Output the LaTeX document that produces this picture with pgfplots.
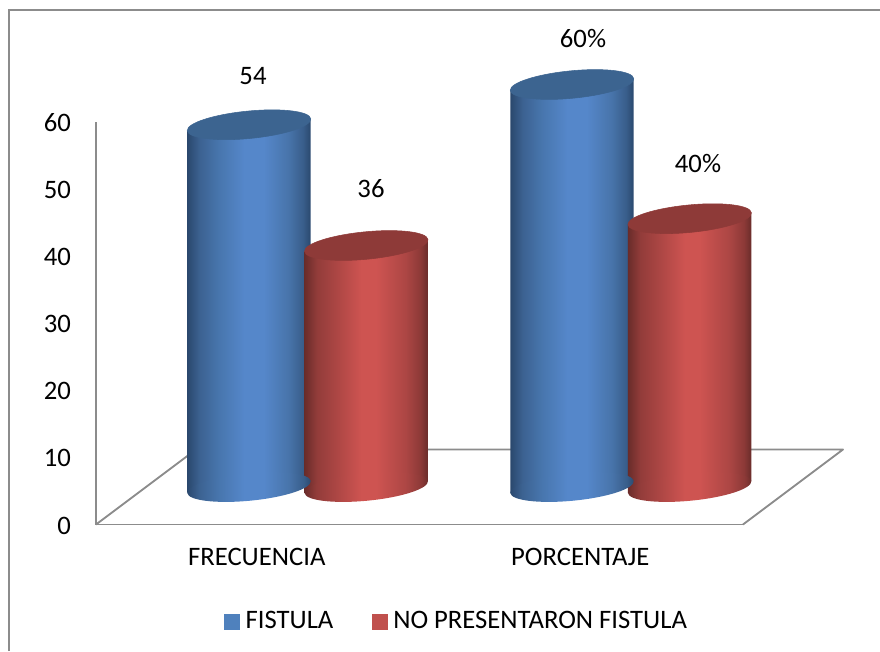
\documentclass[border=0pt]{standalone}
\usepackage{fontspec}
\setmainfont{Carlito}
\usepackage{pgfplots}
\pgfplotsset{compat=1.18}

% one drawing unit of the layout is 0.75pt
\def\px{*0.75pt}

\definecolor{gridgray}{HTML}{8C8C8C}
\definecolor{bluetop}{HTML}{3C6490}
\definecolor{redtop}{HTML}{8E3A38}
\definecolor{blueswatch}{HTML}{4F81BD}
\definecolor{redswatch}{HTML}{C0504D}

% horizontal shadings: the range 25bp..75bp spans the width of the shaded path
\pgfdeclarehorizontalshading{cylblue}{100bp}{
  rgb(0bp)=(0.165,0.282,0.427);
  rgb(25bp)=(0.165,0.282,0.427);
  rgb(30bp)=(0.235,0.384,0.569);
  rgb(38bp)=(0.282,0.463,0.682);
  rgb(48bp)=(0.333,0.529,0.792);
  rgb(56bp)=(0.333,0.529,0.792);
  rgb(66bp)=(0.282,0.455,0.667);
  rgb(72bp)=(0.220,0.365,0.541);
  rgb(75bp)=(0.165,0.282,0.427);
  rgb(100bp)=(0.165,0.282,0.427)}
\pgfdeclarehorizontalshading{cylred}{100bp}{
  rgb(0bp)=(0.412,0.173,0.165);
  rgb(25bp)=(0.412,0.173,0.165);
  rgb(30bp)=(0.573,0.235,0.227);
  rgb(38bp)=(0.675,0.275,0.267);
  rgb(48bp)=(0.808,0.329,0.318);
  rgb(54bp)=(0.808,0.329,0.318);
  rgb(66bp)=(0.675,0.275,0.267);
  rgb(72bp)=(0.549,0.224,0.216);
  rgb(75bp)=(0.412,0.173,0.165);
  rgb(100bp)=(0.412,0.173,0.165)}

% tilted elliptical outline of a cylinder end, as four Bezier arcs
\def\tiltedellipse{
  (46.29pt,4.46pt)
  .. controls (45.74pt,10.12pt) and (24.57pt,12.71pt) .. (-0.99pt,10.25pt)
  .. controls (-26.55pt,7.79pt) and (-46.83pt,1.20pt) .. (-46.29pt,-4.46pt)
  .. controls (-45.74pt,-10.12pt) and (-24.57pt,-12.71pt) .. (0.99pt,-10.25pt)
  .. controls (26.55pt,-7.79pt) and (46.83pt,-1.20pt) .. (46.29pt,4.46pt) -- cycle}

% lower end of a cylinder
\newcommand\declarecylbase[1]{%
  \pgfdeclareplotmark{cylbase#1}{%
    \shade[draw=none,shading=cyl#1] \tiltedellipse;}}
% flat cap of a cylinder
\newcommand\declarecyltop[1]{%
  \pgfdeclareplotmark{cyltop#1}{%
    \fill[#1top] \tiltedellipse;}}
\declarecylbase{blue}\declarecylbase{red}
\declarecyltop{blue}\declarecyltop{red}

% x position, value, sideways offset, colour name;
% the bar is slanted like the ellipse tilt, about its own centre line
\newcommand\cylinder[4]{%
  \addplot[forget plot,only marks,mark=cylbase#4,xshift=#3\px,yshift=37.5\px] coordinates {(#1,0)};
  \addplot[forget plot,ybar,bar width=92.58pt,bar shift=0pt,draw=none,shading=cyl#4,
    xshift=#3\px,yshift=37.5\px-0.0963*(#1+0.5)*242.625pt,yslant=0.0963] coordinates {(#1,#2)};
  \addplot[forget plot,only marks,mark=cyltop#4,xshift=#3\px,yshift=37.5\px] coordinates {(#1,#2)};
}

\begin{document}
\begin{tikzpicture}[x=1pt,y=1pt]
\fontsize{20pt}{24pt}\selectfont
\path[use as bounding box] (0,0) rectangle (660pt,488.25pt);
% outer chart frame, cut by the page on the right and at the bottom
\draw[gridgray,line width=1.3pt] (6.75pt,0pt) -- (6.75pt,480.75pt) -- (660pt,480.75pt);
\begin{axis}[
  at={(72pt,94.875pt)},anchor=south west,
  scale only axis,width=485.25pt,height=301.875pt,
  xmin=-0.5,xmax=1.5,ymin=0,ymax=60,
  clip=false,
  axis x line=bottom,axis y line=left,
  axis line style={-,gridgray,line width=1.4pt},
  major tick length=0pt,
  xtick={0,1},xticklabels={FRECUENCIA,PORCENTAJE},
  ytick={0,10,...,60},
  /pgf/number format/assume math mode=true,
  ticklabel style={font=\fontsize{20pt}{24pt}\selectfont,text=black},
  yticklabel style={xshift=-16\px,yshift=-1\px},
  xticklabel style={yshift=-15\px,xshift=-1\px},
  legend style={
    at={(0.558,-0.242)},anchor=center,draw=none,fill=none,inner sep=0pt,
    font=\fontsize{20pt}{24pt}\selectfont,
    legend columns=2,
    /tikz/every odd column/.append style={column sep=3\px},
    /tikz/every even column/.append style={column sep=36\px},
  },
  legend cell align=left,
]
% floor of the chart box
\draw[gridgray,line width=1.4pt,line join=round]
  (axis cs:-0.5,0) -- ++(75pt,56.25pt) -- ([shift={(75pt,56.25pt)}]axis cs:1.5,0) -- (axis cs:1.5,0);

\addlegendimage{legend image code/.code={\fill[blueswatch] (0pt,-5.6pt) rectangle (11.25pt,5.6pt);}}
\addlegendentry{FISTULA}
\addlegendimage{legend image code/.code={\fill[redswatch] (0pt,-5.6pt) rectangle (11.25pt,5.6pt);}}
\addlegendentry{NO PRESENTARON FISTULA}

\cylinder{0}{54}{-8.75}{blue}
\cylinder{0}{36}{108.5}{red}
\cylinder{1}{60}{-9.25}{blue}
\cylinder{1}{40}{108.4}{red}

\node[xshift=-4.75\px,yshift=86\px] at (axis cs:0,54) {54};
\node[xshift=113.25\px,yshift=94.9\px] at (axis cs:0,36) {36};
\node[xshift=1.75\px,yshift=83\px] at (axis cs:1,60) {60\%};
\node[xshift=116.75\px,yshift=92.2\px] at (axis cs:1,40) {40\%};
\end{axis}
\end{tikzpicture}
\end{document}
